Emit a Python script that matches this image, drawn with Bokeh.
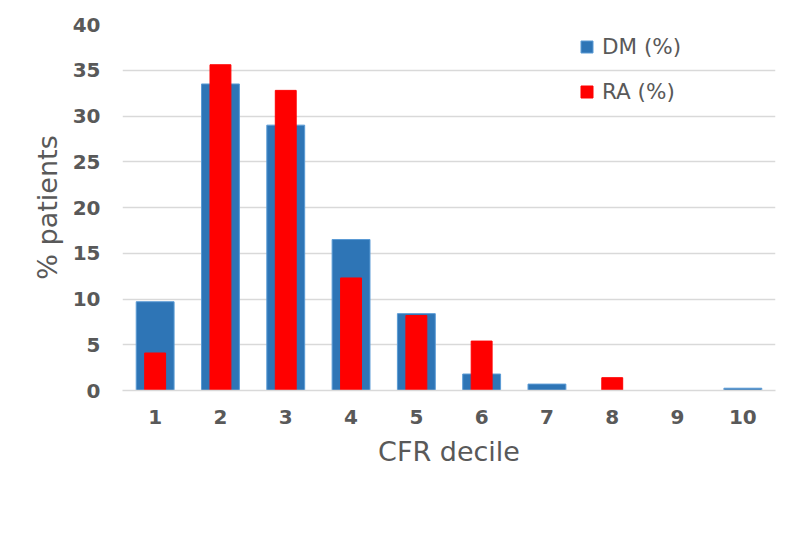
from bokeh.plotting import figure
from bokeh.models import ColumnDataSource, Legend, LegendItem, SingleIntervalTicker
from bokeh.embed import file_html
from bokeh.resources import INLINE

deciles = ["1", "2", "3", "4", "5", "6", "7", "8", "9", "10"]
dm_pct = [9.7, 33.5, 29.0, 16.5, 8.4, 1.8, 0.7, 0.0, 0.0, 0.25]
ra_pct = [4.1, 35.6, 32.8, 12.3, 8.2, 5.4, 0.0, 1.4, 0.0, 0.0]

src = ColumnDataSource(data=dict(decile=deciles, dm=dm_pct, ra=ra_pct))

TXT = "#595959"
GRID = "#D9D9D9"

p = figure(x_range=deciles, y_range=(0, 40), width=792, height=551,
           output_backend="svg", toolbar_location=None,
           min_border_left=122, min_border_right=17,
           min_border_top=24, min_border_bottom=161)
p.outline_line_color = None
p.background_fill_color = "white"
p.border_fill_color = "white"

r_dm = p.vbar(x="decile", top="dm", width=0.58, source=src,
              fill_color="#2E75B6", line_color="#5B9BD5", line_width=1)
r_ra = p.vbar(x="decile", top="ra", width=0.32, source=src,
              fill_color="#FF0000", line_color="#FF0000", line_width=1)

p.xgrid.grid_line_color = None
p.ygrid.grid_line_color = GRID
p.ygrid.grid_line_width = 1.5

p.yaxis.ticker = SingleIntervalTicker(interval=5)
p.yaxis.axis_line_color = None
p.yaxis.major_tick_line_color = None
p.yaxis.minor_tick_line_color = None
p.yaxis.major_label_text_font = "DejaVu Sans"
p.yaxis.major_label_text_font_style = "bold"
p.yaxis.major_label_text_font_size = "20px"
p.yaxis.major_label_text_color = TXT
p.yaxis.major_label_standoff = 16
p.yaxis.axis_label = "% patients"
p.yaxis.axis_label_text_font = "DejaVu Sans"
p.yaxis.axis_label_text_font_style = "normal"
p.yaxis.axis_label_text_font_size = "27px"
p.yaxis.axis_label_text_color = TXT
p.yaxis.axis_label_standoff = 7

p.xaxis.axis_line_color = GRID
p.xaxis.axis_line_width = 1.5
p.xaxis.major_tick_line_color = None
p.xaxis.minor_tick_line_color = None
p.xaxis.major_label_text_font = "DejaVu Sans"
p.xaxis.major_label_text_font_style = "bold"
p.xaxis.major_label_text_font_size = "20px"
p.xaxis.major_label_text_color = TXT
p.xaxis.major_label_standoff = 13
p.xaxis.axis_label = "CFR decile"
p.xaxis.axis_label_text_font = "DejaVu Sans"
p.xaxis.axis_label_text_font_style = "normal"
p.xaxis.axis_label_text_font_size = "27px"
p.xaxis.axis_label_text_color = TXT
p.xaxis.axis_label_standoff = 9

legend = Legend(items=[LegendItem(label="DM (%)", renderers=[r_dm]),
                       LegendItem(label="RA (%)", renderers=[r_ra])],
                location=(457, 286), orientation="vertical",
                padding=0, margin=0, spacing=20,
                glyph_width=15, glyph_height=15,
                label_text_font="DejaVu Sans", label_text_font_size="21.5px",
                label_text_color=TXT, label_standoff=8,
                border_line_color=None, background_fill_alpha=0)
p.add_layout(legend, "center")

open("out.html", "w").write(file_html(p, INLINE))
